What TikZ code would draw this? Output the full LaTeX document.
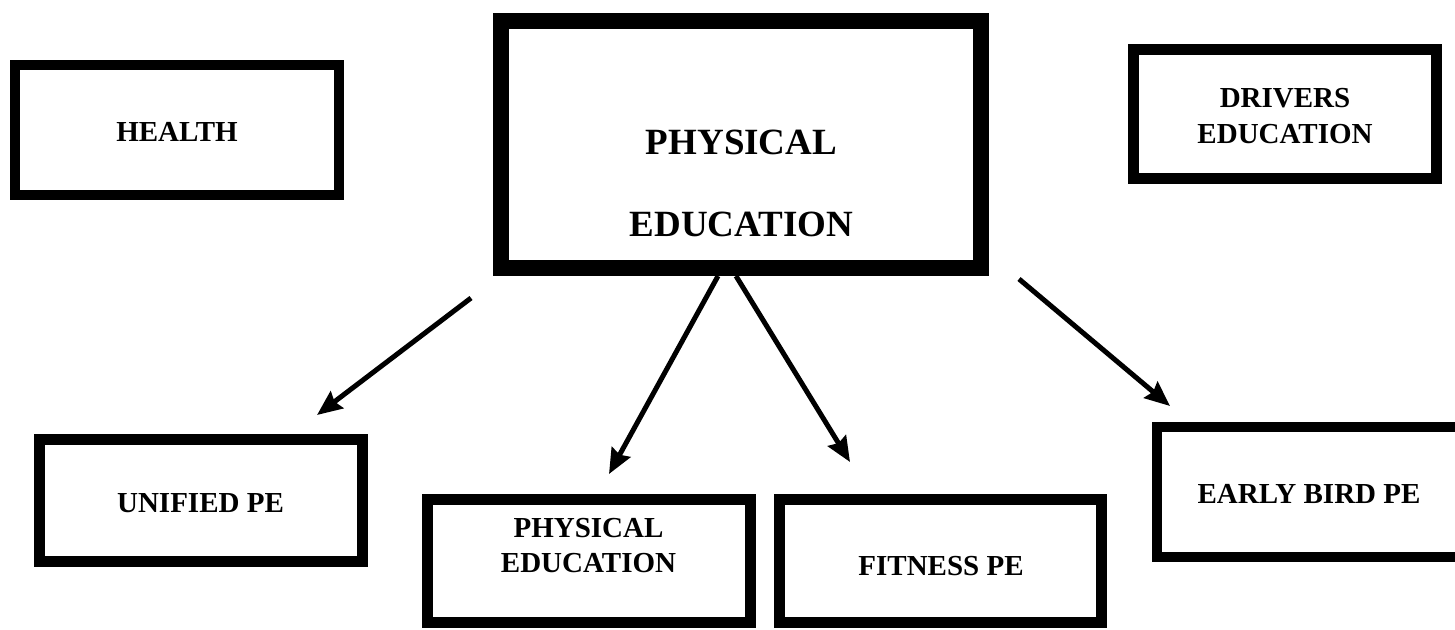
\documentclass[tikz,border=0pt]{standalone}
\usepackage{fontspec}
\setmainfont{Liberation Serif}
\usetikzlibrary{arrows.meta}
\begin{document}
\begin{tikzpicture}[x=1pt,y=-1pt,
  box/.style={draw=black, fill=white, rectangle, line width=#1, inner sep=0pt},
  box/.default=11pt,
  lbl/.style={anchor=base, inner sep=0pt, font=\bfseries\fontsize{29}{35}\selectfont},
  biglbl/.style={anchor=base, inner sep=0pt, font=\bfseries\fontsize{37}{44}\selectfont},
  arr/.style={draw=black, line width=5pt, -{Stealth[length=25pt,width=21pt,inset=3pt]}}
]
\useasboundingbox (0,0) rectangle (1455,629);
\fill[white] (0,0) rectangle (1455,629);

% boxes
\node[box=10pt, minimum width=324pt, minimum height=130pt] (health) at (177,130) {};
\node[box=16pt, minimum width=480pt, minimum height=247pt] (pe) at (741,144.5) {};
\node[box=11pt, minimum width=303pt, minimum height=129pt] (drivers) at (1285,114) {};
\node[box=11pt, minimum width=323pt, minimum height=122pt] (unified) at (201,500.5) {};
\node[box=11pt, minimum width=323pt, minimum height=123pt] (pesmall) at (589,561) {};
\node[box=11pt, minimum width=322pt, minimum height=123pt] (fitness) at (940.5,561) {};
\node[box=10pt, minimum width=306pt, minimum height=130pt] (early) at (1310,492) {};

% texts
\node[lbl] (healtht) at (177,141.5) {HEALTH};
\node[biglbl] (pet1) at (741.5,154) {PHYSICAL};
\node[biglbl] (pet2) at (741.5,236) {EDUCATION};
\node[lbl] (drivt1) at (1285,107) {DRIVERS};
\node[lbl] (drivt2) at (1285,143) {EDUCATION};
\node[lbl] (unifiedt) at (200.5,512) {UNIFIED PE};
\node[lbl] (pesmt1) at (588.5,537) {PHYSICAL};
\node[lbl] (pesmt2) at (588.5,572) {EDUCATION};
\node[lbl] (fitnesst) at (941,575) {FITNESS PE};
\node[lbl] (earlyt) at (1309,503) {EARLY BIRD PE};

% connector end points
\coordinate (a1s) at (471,298);
\coordinate (a1e) at (317,415);
\coordinate (a2s) at (718,276);
\coordinate (a2e) at (609,474);
\coordinate (a3s) at (736,276);
\coordinate (a3e) at (850,462);
\coordinate (a4s) at (1019,279);
\coordinate (a4e) at (1170,406);

\draw[arr] (a1s) -- (a1e);
\draw[arr] (a2s) -- (a2e);
\draw[arr] (a3s) -- (a3e);
\draw[arr] (a4s) -- (a4e);
\end{tikzpicture}
\end{document}
